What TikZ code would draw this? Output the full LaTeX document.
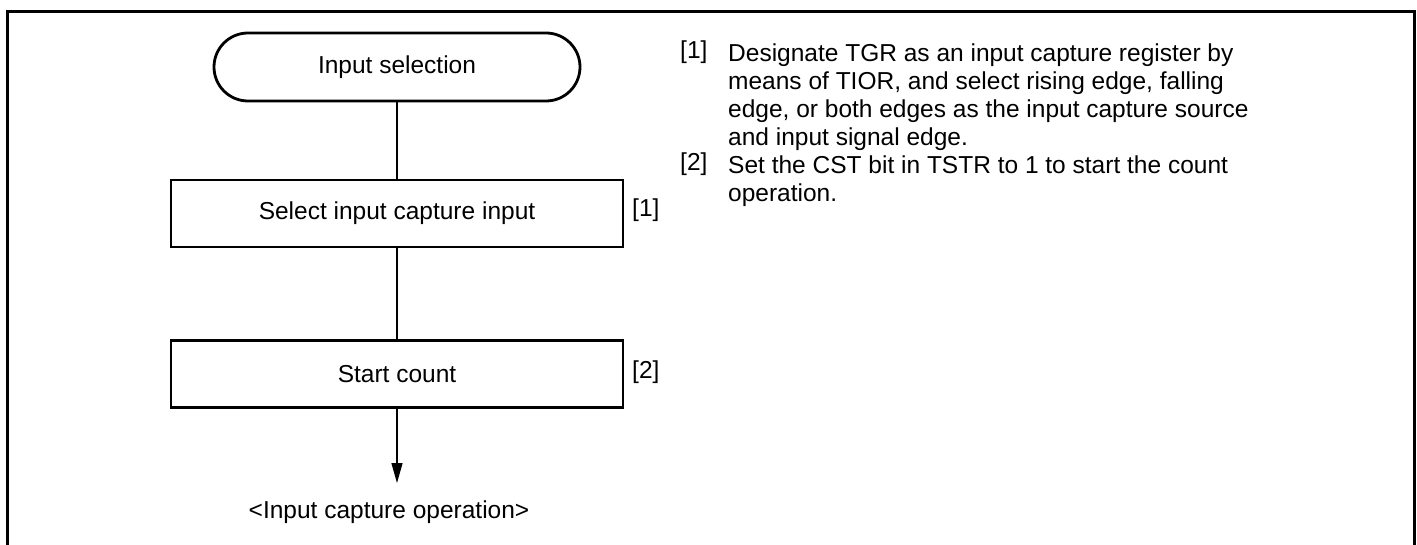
\documentclass[tikz,border=0pt]{standalone}
\usepackage{fontspec}
\setmainfont{Liberation Sans}
\usetikzlibrary{arrows.meta,positioning}
\begin{document}
\begin{tikzpicture}[x=1pt,y=-1pt,
  every node/.style={font=\fontsize{24.5}{28}\selectfont},
  frameline/.style={line width=3pt},
  procbox/.style={draw,line width=2.8pt,minimum width=452pt,minimum height=67pt,inner sep=0pt},
  termbox/.style={draw,line width=2.8pt,rounded corners=34pt,minimum width=366pt,minimum height=68pt,inner sep=0pt},
  conn/.style={line width=1.3pt},
  tag/.style={anchor=base west,inner sep=0pt},
  note/.style={anchor=base west,inner sep=0pt,align=left}
]
\useasboundingbox (0,0) rectangle (1417,545);
\draw[frameline] (7.5,545) -- (7.5,12) -- (1414,12) -- (1414,545);

\node[termbox] (term) at (397,67) {Input selection};
\node[procbox] (sel) at (397,213.5) {Select input capture input};
\node[procbox] (start) at (397,374) {Start count};
\coordinate (tip) at (397,483);
\node[inner sep=0pt] (out) at (389,512) {<Input capture operation>};

\draw[conn] (term) -- (sel);
\draw[conn] (sel) -- (start);
\draw[conn,-{Triangle[length=20pt,width=11pt]}] (start) -- (tip);

\node[tag] (l1) at (632,217) {[1]};
\node[tag] (l2) at (632,379) {[2]};

\node[tag] (n1) at (680,59) {[1]};
\node[note] (t1) at (728,146) {Designate TGR as an input capture register by\\means of TIOR, and select rising edge, falling\\edge, or both edges as the input capture source\\and input signal edge.};
\node[tag] (n2) at (680,171) {[2]};
\node[note] (t2) at (728,202) {Set the CST bit in TSTR to 1 to start the count\\operation.};
\end{tikzpicture}
\end{document}
